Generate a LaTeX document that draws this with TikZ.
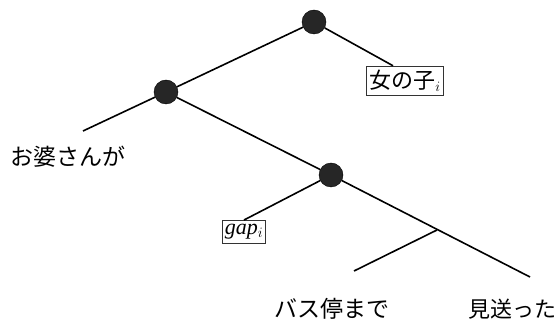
\documentclass[tikz,border=0pt]{standalone}
\usepackage{fontspec}
\setmainfont{Liberation Serif}
\newfontfamily\jp{Noto Sans CJK JP}
\usetikzlibrary{calc}
\begin{document}
\begin{tikzpicture}[x=1pt,y=1pt,
  dot/.style={circle,fill=black!85,draw=black,minimum size=24pt,inner sep=0pt},
  edge/.style={line width=1.6pt},
  leafbox/.style={draw=black!80,line width=0.9pt,inner xsep=2.5pt,inner ysep=4pt,font=\fontsize{22}{25}\selectfont},
  lbl/.style={inner sep=0pt,font=\jp\fontsize{23}{26}\selectfont}]
\useasboundingbox (0,0) rectangle (560,-320);
\node[dot] (top) at (314,-22) {};
\node[dot] (left) at (166,-92) {};
\node[dot] (mid) at (331,-175) {};
\node[leafbox] (girl) at (405,-81) {{\jp 女の子}$_i$};
\node[leafbox] (gap) at (244,-232) {\textit{gap}$_i$};
\coordinate (lleaf) at (83,-131);
\coordinate (rleaf) at (530,-277);
\coordinate (junc) at (437,-230);
\coordinate (bleaf) at (354,-271);
\node[lbl] (oba) at (68,-157) {お婆さんが};
\node[lbl] (bus) at (332,-309) {バス停まで};
\node[lbl,font=\jp\fontsize{22}{26}\selectfont] (mio) at (512,-309) {見送った};
\draw[edge] (top) -- (left);
\draw[edge] (top) -- ([xshift=-12pt]girl.north);
\draw[edge] (left) -- (lleaf);
\draw[edge] (left) -- (mid);
\draw[edge] (mid) -- (gap.north);
\draw[edge] (mid) -- (rleaf);
\draw[edge] (junc) -- (bleaf);
\end{tikzpicture}
\end{document}
